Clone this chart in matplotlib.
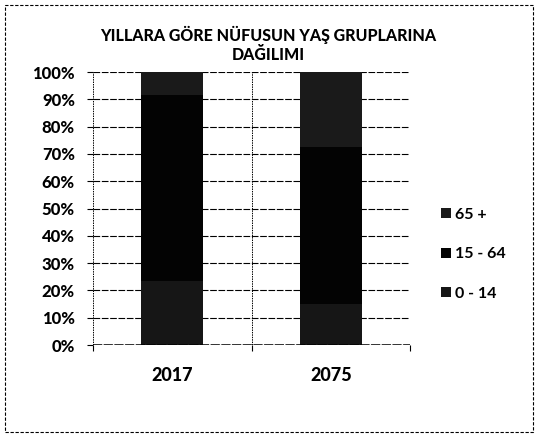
import numpy as np
import matplotlib.pyplot as plt
from matplotlib.patches import Rectangle
from matplotlib.ticker import PercentFormatter

plt.rcParams['font.family'] = ['Lato', 'DejaVu Sans']

# yas gruplarinin payi (%)
yillar = ['2017', '2075']
grup_0_14 = [23.6, 15.0]
grup_15_64 = [67.9, 57.6]
grup_65 = [8.5, 27.4]
gruplar = ['0 - 14', '15 - 64', '65 +']
renkler = ['#161616', '#030303', '#1a1a1a']

fig = plt.figure(figsize=(5.38, 4.37), dpi=100)
ax = fig.add_axes([0.1729, 0.2105, 0.5892, 0.6247])

x = np.arange(len(yillar))
alt = np.zeros(len(yillar))
cubuklar = []
for deger, renk in zip([grup_0_14, grup_15_64, grup_65], renkler):
    b = ax.bar(x, deger, 0.39, bottom=alt, color=renk, zorder=3)
    cubuklar.append(b)
    alt += np.array(deger)

ax.set_xlim(-0.5, 1.5)
ax.set_ylim(0, 100)
ax.set_yticks(np.arange(0, 101, 10))
ax.yaxis.set_major_formatter(PercentFormatter(decimals=0))
ax.set_xticks(x)
ax.set_xticklabels(yillar)
ax.set_xticks([-0.5, 0.5, 1.5], minor=True)

for s in ax.spines.values():
    s.set_visible(False)
ax.grid(axis='y', color='black', linestyle=(0, (6, 1.5)), linewidth=0.8, zorder=1)
ax.grid(axis='x', which='minor', color='black', linestyle=(0, (1.5, 1)), linewidth=0.7, zorder=1)
ax.axhline(0, color='black', linewidth=1.1, linestyle=(0, (6, 1)), zorder=4)

ax.tick_params(axis='y', length=4, width=0.8, pad=9, labelsize=12)
ax.tick_params(axis='x', which='major', length=0, pad=16, labelsize=13)
ax.tick_params(axis='x', which='minor', length=4, width=0.8)
for lab in ax.get_yticklabels() + ax.get_xticklabels():
    lab.set_fontweight('black')

fig.text(0.499, 0.92, 'YILLARA GÖRE NÜFUSUN YAŞ GRUPLARINA', ha='center', va='center',
         fontsize=11.5, fontweight='black')
fig.text(0.499, 0.874, 'DAĞILIMI', ha='center', va='center',
         fontsize=11.5, fontweight='black')

leg = fig.legend(cubuklar[::-1], gruplar[::-1], loc='center left',
                 bbox_to_anchor=(0.805, 0.418), frameon=False, fontsize=11.5,
                 handlelength=0.6, handleheight=0.6, handletextpad=0.25,
                 labelspacing=1.6, borderpad=0)
for t in leg.get_texts():
    t.set_fontweight('bold')

# dis cerceve
fig.patches.append(Rectangle((0.009, 0.011), 0.982, 0.978, transform=fig.transFigure,
                             fill=False, edgecolor='black', linewidth=0.8,
                             linestyle=(0, (3, 1.5))))

fig.savefig('out.png', dpi=100)
